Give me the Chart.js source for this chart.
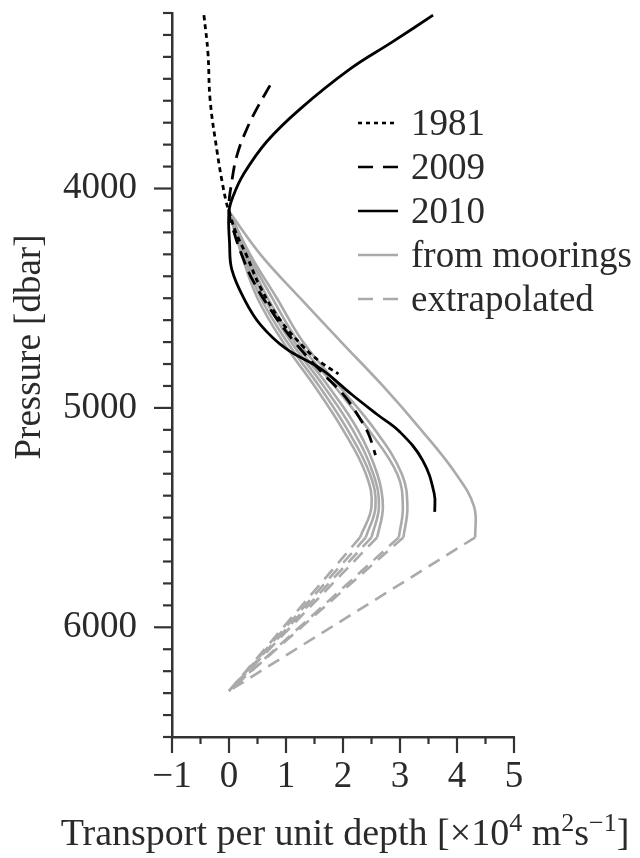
<!DOCTYPE html>
<html>
<head>
<meta charset="utf-8">
<script src="https://cdn.jsdelivr.net/npm/chart.js@4.4.1/dist/chart.umd.min.js"></script>
<style>
  html, body { margin: 0; padding: 0; background: #fff; }
</style>
</head>
<body>
<canvas id="myChart" width="640" height="858"></canvas>
<script>
// transport per unit depth (x 10^4 m2/s) against pressure (dbar)
const p1981 = [3210, 3380, 3600, 3830, 3970, 4060, 4104, 4200, 4300, 4450, 4600, 4720, 4790, 4845];
const x1981 = [-0.44, -0.37, -0.33, -0.21, -0.12, -0.05, 0, 0.12, 0.3, 0.55, 0.9, 1.3, 1.6, 1.92];

const p2009 = [3530, 3630, 3730, 3840, 3950, 4104, 4210, 4320, 4420, 4560, 4700, 4830, 4950, 5050, 5120, 5215];
const x2009 = [0.72, 0.5, 0.31, 0.15, 0.06, 0, 0.1, 0.25, 0.42, 0.75, 1.15, 1.6, 2.04, 2.3, 2.45, 2.57];

const p2010 = [3210, 3333, 3456, 3637, 3787, 3937, 4030, 4104, 4250, 4370, 4510, 4620, 4730, 4820, 4940, 5030, 5110, 5240, 5390, 5474];
const x2010 = [3.58, 2.86, 2.12, 1.25, 0.66, 0.25, 0.08, 0, 0.01, 0.05, 0.28, 0.55, 1.0, 1.6, 2.16, 2.6, 3.0, 3.4, 3.6, 3.61];

// mooring profiles, all on the same pressure levels
const mooringP = [4104, 4300, 4500, 4700, 4900, 5100, 5300, 5450, 5590];
const mooring1 = [0, 0.22, 0.5, 0.95, 1.5, 2.0, 2.4, 2.5, 2.3];
const mooring2 = [0, 0.25, 0.56, 1.02, 1.58, 2.08, 2.47, 2.57, 2.4];
const mooring3 = [0, 0.28, 0.62, 1.09, 1.66, 2.17, 2.53, 2.63, 2.5];
const mooring4 = [0, 0.31, 0.68, 1.15, 1.74, 2.26, 2.6, 2.7, 2.6];
const mooring5 = [0, 0.34, 0.76, 1.22, 1.85, 2.45, 2.95, 3.05, 2.98];
const mooring6 = [0, 0.37, 0.84, 1.3, 1.93, 2.56, 3.03, 3.13, 3.06];
const mooring7 = [0, 0.55, 1.25, 1.97, 2.7, 3.37, 3.98, 4.3, 4.32];
// extrapolation goes to zero transport at the bottom
const bottomP = 6290;
const bottomX = 0;

const legendLabels = ['1981', '2009', '2010', 'from moorings', 'extrapolated'];
const xTickLabels = ['\u22121', '0', '1', '2', '3', '4', '5'];
const yTickLabels = ['4000', '5000', '6000'];

const FONT = 'Liberation Serif';
const GREY = '#aaaaaa';

function pts(xs, ps) {
    return xs.map((v, i) => ({ x: v, y: ps[i] }));
}

const datasets = [
    { label: legendLabels[0], data: pts(x1981, p1981), borderColor: '#000', borderDash: [5, 4], borderWidth: 2.8 },
    { label: legendLabels[1], data: pts(x2009, p2009), borderColor: '#000', borderDash: [14, 8], borderWidth: 2.8 },
    { label: legendLabels[2], data: pts(x2010, p2010), borderColor: '#000', borderWidth: 2.8 }
];

[mooring1, mooring2, mooring3, mooring4, mooring5, mooring6, mooring7].forEach(m => {
    datasets.push({ label: legendLabels[3], data: pts(m, mooringP), borderColor: GREY });
    const last = m.length - 1;
    datasets.push({
        label: legendLabels[4],
        data: [{ x: m[last], y: mooringP[last] }, { x: bottomX, y: bottomP }],
        borderColor: GREY, borderDash: [13, 8], tension: 0
    });
});

const legendStyles = [
    { color: '#000', dash: [4, 4] },
    { color: '#000', dash: [15, 10] },
    { color: '#000', dash: [] },
    { color: GREY, dash: [] },
    { color: GREY, dash: [15, 10] }
];

const decor = {
    id: 'decor',
    afterDraw(chart) {
        const { ctx, chartArea: a } = chart;
        const xs = chart.scales.x, ys = chart.scales.y;
        ctx.save();

        // tick marks, long at labelled values
        ctx.strokeStyle = '#333';
        ctx.lineWidth = 2.2;
        ys.ticks.forEach(t => {
            const py = ys.getPixelForValue(t.value);
            const len = t.value % 1000 === 0 ? 18 : 9;
            ctx.beginPath();
            ctx.moveTo(a.left - len, py);
            ctx.lineTo(a.left, py);
            ctx.stroke();
        });
        xs.ticks.forEach(t => {
            const px = xs.getPixelForValue(t.value);
            const len = Number.isInteger(t.value) ? 16 : 7;
            ctx.beginPath();
            ctx.moveTo(px, a.bottom);
            ctx.lineTo(px, a.bottom + len);
            ctx.stroke();
        });

        // legend
        ctx.font = '37px "' + FONT + '"';
        ctx.textAlign = 'left';
        ctx.textBaseline = 'alphabetic';
        legendLabels.forEach((lab, i) => {
            const yy = 123 + i * 44;
            const st = legendStyles[i];
            ctx.strokeStyle = st.color;
            ctx.lineWidth = 2.6;
            ctx.setLineDash(st.dash);
            ctx.beginPath();
            ctx.moveTo(358, yy);
            ctx.lineTo(398, yy);
            ctx.stroke();
            ctx.setLineDash([]);
            ctx.fillStyle = '#2a2a2a';
            ctx.fillText(lab, 411, yy + 12);
        });

        // y title
        ctx.save();
        ctx.translate(30, 347);
        ctx.rotate(-Math.PI / 2);
        ctx.textAlign = 'center';
        ctx.textBaseline = 'middle';
        ctx.fillText('Pressure [dbar]', 0, 0);
        ctx.restore();

        // x title with superscripts
        const big = '38px "' + FONT + '"';
        const small = '26px "' + FONT + '"';
        const parts = [
            ['Transport per unit depth [\u00d710', false],
            ['4', true], [' m', false], ['2', true], ['s', false], ['\u22121', true], [']', false]
        ];
        let total = 0;
        parts.forEach(p => { ctx.font = p[1] ? small : big; total += ctx.measureText(p[0]).width; });
        let cx = (a.left + a.right) / 2 + 2 - total / 2;
        const base = 845;
        parts.forEach(p => {
            ctx.font = p[1] ? small : big;
            ctx.fillText(p[0], cx, p[1] ? base - 14 : base);
            cx += ctx.measureText(p[0]).width;
        });

        ctx.restore();
    }
};

const ctx = document.getElementById('myChart').getContext('2d');
const myChart = new Chart(ctx, {
    type: 'scatter',
    data: { datasets: datasets },
    options: {
        responsive: false,
        animation: false,
        showLine: true,
        layout: { padding: { top: 13, right: 126, left: 0, bottom: 0 } },
        elements: {
            point: { radius: 0, hoverRadius: 0 },
            line: { tension: 0.4, borderWidth: 2.6, fill: false }
        },
        plugins: {
            legend: { display: false },
            tooltip: { enabled: false }
        },
        scales: {
            x: {
                type: 'linear',
                min: -1,
                max: 5,
                grid: { display: false, drawTicks: false },
                border: { color: '#333', width: 2.5 },
                ticks: {
                    stepSize: 0.5,
                    autoSkip: false,
                    maxRotation: 0,
                    padding: 18,
                    color: '#2a2a2a',
                    font: { family: FONT, size: 37 },
                    callback: v => Number.isInteger(v) ? xTickLabels[v + 1] : ''
                },
                afterFit: s => {
                    s.height = 121;
                    s.paddingLeft = 0;
                    s.paddingRight = 0;
                }
            },
            y: {
                type: 'linear',
                reverse: true,
                min: 3200,
                max: 6500,
                grid: { display: false, drawTicks: false },
                border: { color: '#333', width: 2.5 },
                ticks: {
                    stepSize: 100,
                    autoSkip: false,
                    padding: 35,
                    color: '#2a2a2a',
                    font: { family: FONT, size: 37 },
                    callback: v => v % 1000 === 0 ? yTickLabels[v / 1000 - 4] : ''
                },
                afterFit: s => {
                    s.width = 172;
                    s.paddingTop = 0;
                    s.paddingBottom = 0;
                }
            }
        }
    },
    plugins: [decor]
});
</script>
</body>
</html>
